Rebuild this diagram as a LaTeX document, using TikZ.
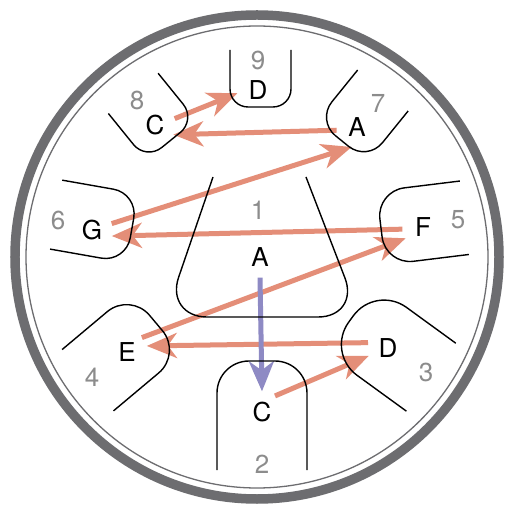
\documentclass[tikz,border=0pt]{standalone}
\usepackage{fontspec}
\setmainfont{TeX Gyre Heros}
\usepackage{tikz}
\usetikzlibrary{arrows.meta}
\definecolor{clRim}{HTML}{6D6D70}
\definecolor{clNumber}{HTML}{8C8C8C}
\definecolor{clStep}{HTML}{E48E78}
\definecolor{clDing}{HTML}{8E8AC4}
\tikzset{
  rim/.style={draw=clRim, line width=9.5pt},
  rimline/.style={draw=clRim, line width=1.3pt},
  tongue/.style={draw=black, line width=1.4pt},
  note/.style={circle, inner sep=0pt, minimum size=41pt, font=\fontsize{26}{30}\selectfont},
  number/.style={inner sep=0pt, text=clNumber, font=\fontsize{26}{30}\selectfont},
  stepflow/.style={-{Stealth[length=30pt, width=25pt, inset=9pt]}, line width=5pt, draw=clStep},
  dingflow/.style={stepflow, draw=clDing},
}

\begin{document}
\begin{tikzpicture}[x=1pt, y=1pt]
  \fill[white] (-257,-251) rectangle (254,257);
  \draw[rim] (0,0) circle (242pt);
  \draw[rimline] (0,0) circle (231pt);
  % notes and their numbers
  \foreach \name/\x/\y/\txt in {a1/3/0/A, c2/5/-155/C, d3/131/-91/D, e4/-130/-95/E, f5/166/30/F,
                                g6/-165/27/G, a7/100/130/A, c8/-102/132/C, d9/1/167/D}
    \node[note] (\name) at (\x,\y) {\txt};
  \foreach \i/\x/\y in {1/1/47, 2/5/-207, 3/169/-115, 4/-165/-120, 5/201/37,
                        6/-199/37, 7/121/154, 8/-120/157, 9/1/197}
    \node[number] (k\i) at (\x,\y) {\i};
  % playing order
  \draw[stepflow] (c8.18) -- (d9.189);
  \draw[stepflow] (a7.189) -- (c8.-28);
  \draw[stepflow] (g6.18) -- (a7.255);
  \draw[stepflow] (f5.186) -- (g6.-17);
  \draw[stepflow] (e4.44) -- (f5.213);
  \draw[stepflow] (d3.165) -- (e4.17);
  \draw[stepflow] (c2.51) -- (d3.202);
  \draw[dingflow] (a1.south) -- (c2.north);
  % tongues: tip x / tip y / angle / half width / length / corner
  \foreach \x/\y/\a/\w/\l/\r in {3.5/150/90/30.5/57/18, -86/117/129/32/60/20, 85/116/51/32.5/65/24,
                                 -125/29/170/35/77/25, 124/29/7/37/84/28, -101/-66/220/40/89/30,
                                 94/-62/-36/42/99/38, 5/-104/270/45/109/32}
    \draw[tongue, shift={(\x,\y)}, rotate=\a, rounded corners=\r pt] (\l,\w) -- (0,\w) -- (0,-\w) -- (\l,-\w);
  \draw[tongue, rounded corners=42pt] (-44,80) -- (-92,-60) -- (103,-60) -- (49,80);
\end{tikzpicture}
\end{document}
